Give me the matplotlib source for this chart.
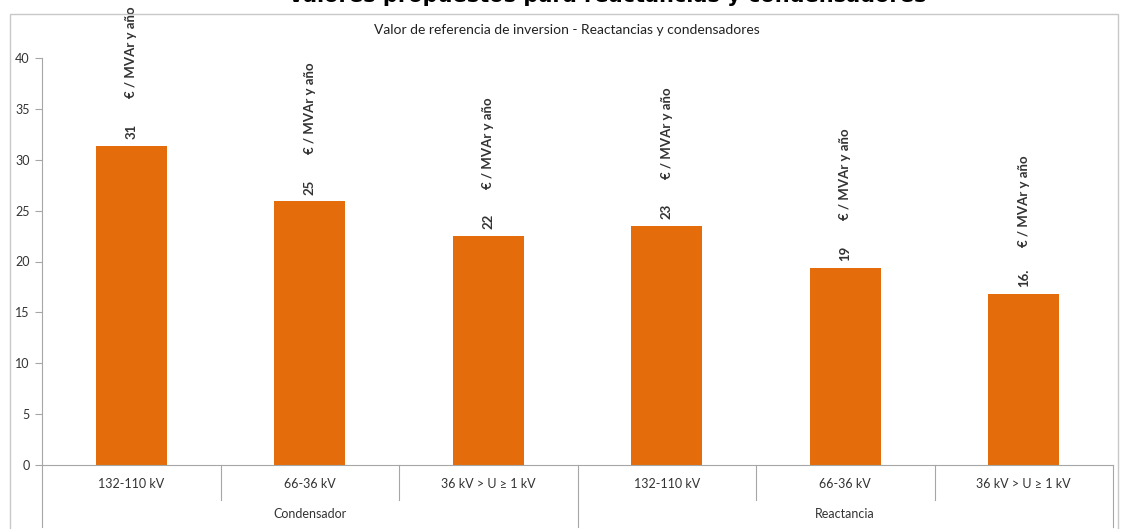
import matplotlib
matplotlib.use('Agg')
import matplotlib.pyplot as plt
from matplotlib.patches import Rectangle

# data
categories = ['132-110 kV', '66-36 kV', '36 kV > U ≥ 1 kV',
              '132-110 kV', '66-36 kV', '36 kV > U ≥ 1 kV']
groups = ['Condensador', 'Reactancia']
values = [31.4, 25.9, 22.5, 23.5, 19.4, 16.8]
value_labels = ['31', '25', '22', '23', '19', '16.']
unit = '€ / MVAr y año'
yticks = [0, 5, 10, 15, 20, 25, 30, 35, 40]

plt.rcParams['font.family'] = ['Lato', 'DejaVu Sans']

orange = '#E46C0A'
grey = '#A6A6A6'
txt = '#333333'

fig = plt.figure(figsize=(11.21, 5.29), dpi=100)
ax = fig.add_axes([42 / 1121, 1 - 465 / 529, (1113 - 42) / 1121, 407 / 529])

x = list(range(len(values)))
ax.bar(x, values, width=0.4, color=orange, zorder=2)

ax.set_xlim(-0.5, len(values) - 0.5)
ax.set_ylim(0, 40)
ax.set_yticks(yticks)
ax.set_yticklabels([str(t) for t in yticks], fontsize=9, color=txt)
ax.tick_params(axis='y', length=5, color=grey, pad=4)
ax.set_xticks(x)
ax.set_xticklabels(categories, fontsize=9, color=txt)
ax.tick_params(axis='x', length=0, pad=9)

for s in ['top', 'right']:
    ax.spines[s].set_visible(False)
ax.spines['left'].set_color(grey)
ax.spines['bottom'].set_color(grey)

# category separators and group labels
tr = ax.get_xaxis_transform()
for i in range(len(values) + 1):
    b = i - 0.5
    depth = -0.152 if i in (0, 3, 6) else -0.086
    ax.plot([b, b], [0, depth], color=grey, lw=0.8, clip_on=False, transform=tr)
for gi, g in enumerate(groups):
    ax.text(gi * 3 + 1, -0.12, g, transform=tr, ha='center', va='center',
            fontsize=9, color=txt)

# rotated value labels
for xi, v, lab in zip(x, values, value_labels):
    ax.annotate(lab, (xi, v), xytext=(0, 5), textcoords='offset points',
                rotation=90, ha='center', va='bottom', fontsize=9.5,
                fontweight='bold', color=txt, annotation_clip=False)
    ax.annotate(unit, (xi, v), xytext=(0, 34), textcoords='offset points',
                rotation=90, ha='center', va='bottom', fontsize=9.5,
                fontweight='bold', color=txt, annotation_clip=False)

ax.text(0.49, 1.069, 'Valor de referencia de inversion - Reactancias y condensadores',
        transform=ax.transAxes, ha='center', va='center', fontsize=10, color='#222222')

# chart border
fig.patches.append(Rectangle((10 / 1121, -0.01), 1108 / 1121, 1 - 14 / 529 + 0.01,
                             transform=fig.transFigure, fill=False,
                             edgecolor='#C8C8C8', lw=1))

# cropped heading above the chart
fig.text(607 / 1121, 1.008, 'Valores propuestos para reactancias y condensadores',
         ha='center', va='center', fontsize=15, fontweight='bold',
         family=['DejaVu Sans'])

fig.savefig('out.png', dpi=100)
